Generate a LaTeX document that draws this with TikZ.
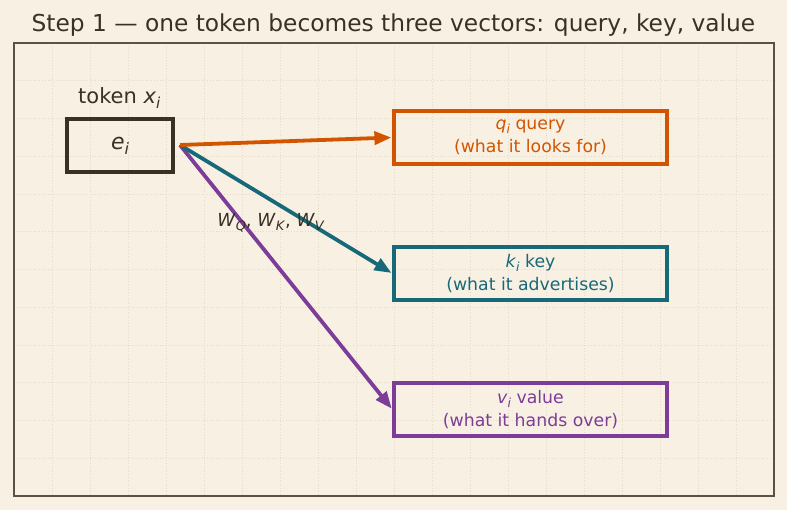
\documentclass[tikz,border=0pt]{standalone}
\usepackage{fontspec}
\setmainfont{DejaVu Sans}
\usetikzlibrary{arrows.meta}
\definecolor{bg}{HTML}{F8F1E3}
\definecolor{ink}{HTML}{3A3026}
\definecolor{frame}{HTML}{5C5244}
\definecolor{gridc}{HTML}{E4DBC8}
\definecolor{qcol}{HTML}{D35400}
\definecolor{kcol}{HTML}{17697A}
\definecolor{vcol}{HTML}{7D3C98}
\newcommand\vsub[2]{\textit{#1}\raisebox{-0.22em}{\fontsize{0.72em}{0.8em}\selectfont\textit{#2}}}
\tikzset{
  vecbox/.style={draw, line width=3.2pt, minimum width=273pt, minimum height=53pt, inner sep=0pt, align=center, font=\fontsize{17.3}{22.5}\selectfont},
  embbox/.style={draw=ink, line width=3.2pt, minimum width=106pt, minimum height=53pt, inner sep=0pt, text=ink, font=\fontsize{22}{24}\selectfont},
  conn/.style={line width=3.8pt, -{Triangle[length=17pt,width=13pt]}, shorten >=1pt},
}
\begin{document}
\begin{tikzpicture}[x=1pt,y=-1pt]
\fill[bg] (0,0) rectangle (787,510);
\useasboundingbox (0,0) rectangle (787,510);
% grid
\foreach \i in {1,...,19} {
  \draw[gridc, line width=0.8pt, dotted] ({14+38*\i},43) -- ({14+38*\i},496);
}
\foreach \j in {1,...,11} {
  \draw[gridc, line width=0.8pt, dotted] (14,{43+37.75*\j}) -- (774,{43+37.75*\j});
}
\draw[frame, line width=2pt] (14,43) rectangle (774,496);
\node[text=ink, font=\fontsize{23.3}{26}\selectfont] (title) at (393.5,25) {Step 1 — one token becomes three vectors: query, key, value};
\node[text=ink, font=\fontsize{21}{24}\selectfont, anchor=base west, inner sep=0pt] (tok) at (78,104) {token \vsub{x}{i}};
\node[embbox] (e) at (120,145.5) {\vsub{e}{i}};
\coordinate (s) at (180,145);
\node[vecbox, draw=qcol, text=qcol] (q) at (530.5,137.5) {\vsub{q}{i} query\\(what it looks for)};
\node[vecbox, draw=kcol, text=kcol] (k) at (530.5,273.5) {\vsub{k}{i} key\\(what it advertises)};
\node[vecbox, draw=vcol, text=vcol] (v) at (530.5,409.5) {\vsub{v}{i} value\\(what it hands over)};
\draw[conn, vcol] (s) -- (v.west);
\draw[conn, kcol] (s) -- (k.west);
\draw[conn, qcol] (s) -- (q.west);
\node[text=ink, font=\fontsize{18}{20}\selectfont, inner sep=0pt] (w) at (271,223) {\vsub{W}{Q}, \vsub{W}{K}, \vsub{W}{V}};
\end{tikzpicture}
\end{document}
